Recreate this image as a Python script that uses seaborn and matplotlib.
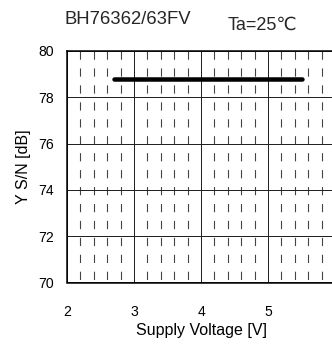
import numpy as np
import pandas as pd
import matplotlib
matplotlib.use("Agg")
import matplotlib.pyplot as plt
import seaborn as sns

# data
voltage = [2.7, 5.5]
sn_ratio = [78.8, 78.8]
x_ticks = [2, 3, 4, 5, 6]
y_ticks = [70, 72, 74, 76, 78, 80]

sns.set_style("white")
plt.rcParams['font.family'] = ['Liberation Sans', 'DejaVu Sans']

df = pd.DataFrame({"Supply Voltage [V]": voltage, "Y S/N [dB]": sn_ratio})

fig = plt.figure(figsize=(332 / 72, 345 / 72), dpi=72)
ax = fig.add_axes([67 / 332, 1 - 282.5 / 345, 268 / 332, 231.5 / 345])

# minor dashed verticals
minor_x = [x for x in np.arange(2, 6.01, 0.2) if abs(x - round(x)) > 0.01]
ax.vlines(minor_x, 80, 70, colors="#444444", linewidth=1.1,
          linestyles=[(0, (7.5, 7.9))])
for x in x_ticks:
    ax.axvline(x, color="#222222", linewidth=1.0)
for y in y_ticks:
    ax.axhline(y, color="#222222", linewidth=1.0)

sns.lineplot(data=df, x="Supply Voltage [V]", y="Y S/N [dB]", ax=ax,
             color="black", linewidth=4.5, solid_capstyle="round")

ax.set_xlim(2, 6)
ax.set_ylim(70, 80)
ax.set_xticks(x_ticks)
ax.set_yticks(y_ticks)
ax.tick_params(axis="both", length=0, labelsize=14, labelcolor="black")
ax.tick_params(axis="x", pad=22)
ax.tick_params(axis="y", pad=13)
ax.set_xlabel("Supply Voltage [V]", fontsize=16, labelpad=5, color="black")
ax.set_ylabel("Y S/N [dB]", fontsize=16, labelpad=7, color="black")
for s in ax.spines.values():
    s.set_color("black")
    s.set_linewidth(1.5)

fig.text(128 / 332, 1 - 19 / 345, "BH76362/63FV", fontsize=18.5,
         ha="center", va="center")
fig.text(262 / 332, 1 - 25 / 345, "Ta=25℃", fontsize=18,
         ha="center", va="center")

fig.savefig("out.png", dpi=72)
